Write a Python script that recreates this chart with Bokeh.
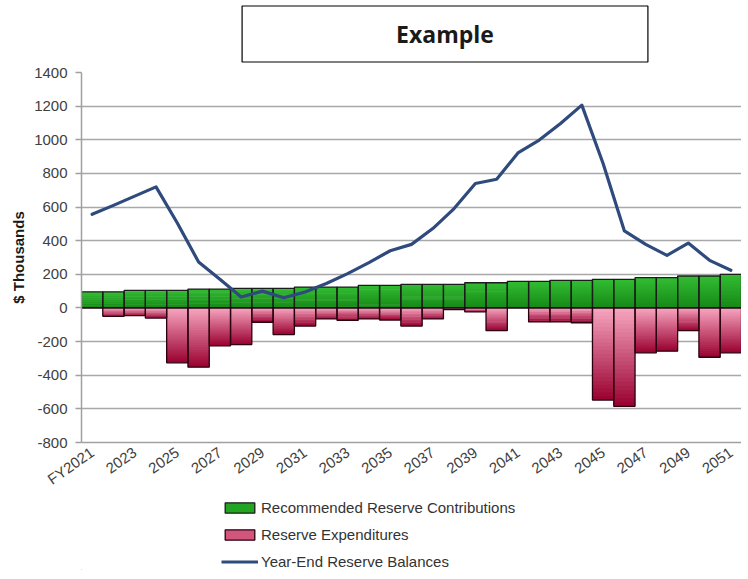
import math
from bokeh.plotting import figure
from bokeh.layouts import column
from bokeh.models import (ColumnDataSource, Range1d, FixedTicker, Legend,
                          LegendItem, Label)
from bokeh.embed import file_html
from bokeh.resources import INLINE

# ---------------- data ----------------
years = ["FY2021"] + [str(y) for y in range(2022, 2052)]
contributions = [96, 96, 104, 104, 104, 112, 112, 116, 116, 116,
                 124, 124, 124, 134, 134, 140, 140, 140, 150, 150,
                 158, 158, 164, 164, 170, 170, 180, 180, 190, 190, 200]
expenditures = [0, -50, -46, -60, -326, -352, -225, -218, -85, -158,
                -108, -65, -73, -65, -72, -108, -65, -10, -23, -135,
                0, -83, -83, -88, -548, -585, -267, -257, -135, -293, -267]
balances = [557, 610, 665, 720, 505, 273, 170, 65, 100, 61,
            95, 145, 204, 270, 340, 378, 472, 591, 740, 765,
            922, 998, 1097, 1206, 859, 458, 378, 313, 386, 283, 224]
y_ticks = [-800, -600, -400, -200, 0, 200, 400, 600, 800, 1000, 1200, 1400]
series_names = ["Recommended Reserve Contributions", "Reserve Expenditures",
                "Year-End Reserve Balances"]
title_text = "Example"
y_title = "$ Thousands"

# ---------------- helpers ----------------
def hex2rgb(h):
    h = h.lstrip("#")
    return tuple(int(h[i:i + 2], 16) for i in (0, 2, 4))

def lerp(c1, c2, t):
    a, b = hex2rgb(c1), hex2rgb(c2)
    return "#%02x%02x%02x" % tuple(int(round(a[i] + (b[i] - a[i]) * t)) for i in range(3))

N_SEG = 24

def gradient_source(values, c_start, c_end):
    """Split every bar (0 -> value) into thin slices coloured along a gradient.
    Slice 0 is at the value end for positive bars (top), at zero for negative bars."""
    x, top, bottom, color = [], [], [], []
    for s in range(N_SEG):
        f0 = s / N_SEG
        f1 = min(1.0, (s + 1.7) / N_SEG)
        col = lerp(c_start, c_end, (s + 0.5) / N_SEG)
        for i, v in enumerate(values):
            if v >= 0:
                t, b = v * (1 - f0), v * (1 - f1)
            else:
                t, b = v * f0, v * f1
            x.append(i); top.append(t); bottom.append(b); color.append(col)
    return ColumnDataSource(dict(x=x, top=top, bottom=bottom, color=color))

W = 741          # figure width
FL = 81          # frame left (pixels from figure's left edge)

def bare_figure(h):
    # frames of column children are aligned with the chart's frame (FL .. W),
    # so the x range maps straight onto figure pixels
    f = figure(width=W, height=h, output_backend="svg", toolbar_location=None,
               x_axis_type=None, y_axis_type=None,
               x_range=Range1d(FL, W), y_range=Range1d(0, h),
               min_border=0, min_border_left=FL, min_border_right=0,
               min_border_top=0, min_border_bottom=0)
    f.outline_line_color = None
    f.grid.visible = False
    return f

GREEN_C = "#22a522"
RED_C = "#d2557c"
LINE_C = "#2f4a7c"

# ---------------- title figure ----------------
TH = 64
pt = bare_figure(TH)
pt.add_layout(Label(x=444.5, y=TH - 33.5, text=title_text, text_align="center",
                    text_baseline="middle", text_font="Open Sans",
                    text_font_style="bold", text_font_size="23px",
                    text_color="#1a1a1a", border_line_color="black",
                    border_line_width=1.2, background_fill_color="white",
                    padding=(154, 12)))

# ---------------- main chart ----------------
n = len(years)
xs = list(range(n))
MH = 435
p = figure(width=W, height=MH, output_backend="svg", toolbar_location=None,
           x_range=Range1d(-0.5, n - 0.5), y_range=Range1d(-800, 1400),
           min_border_left=FL, min_border_right=0, min_border_top=8,
           min_border_bottom=57)
p.outline_line_color = None

p.xgrid.grid_line_color = None
p.ygrid.grid_line_color = "#a8a8a8"
p.ygrid.grid_line_width = 1.6
p.ygrid.ticker = FixedTicker(ticks=y_ticks)

green_src = gradient_source(contributions, "#33bd33", "#168816")
red_src = gradient_source(expenditures, "#f7a6c0", "#990030")
p.vbar(x="x", top="top", bottom="bottom", width=1.0, source=green_src,
       fill_color="color", line_color=None)
p.vbar(x="x", top="top", bottom="bottom", width=1.0, source=red_src,
       fill_color="color", line_color=None)

bar_src = ColumnDataSource(dict(x=xs, contrib=contributions, expend=expenditures))
p.vbar(x="x", top="contrib", bottom=0, width=1.0, source=bar_src,
       fill_color=None, line_color="#1c1c1c", line_width=1.3)
p.vbar(x="x", top="expend", bottom=0, width=1.0, source=bar_src,
       fill_color=None, line_color="#2a0010", line_width=1.3)

p.line(xs, balances, line_color=LINE_C, line_width=3.2,
       line_join="round", line_cap="round")

yax = p.yaxis[0]
yax.ticker = FixedTicker(ticks=y_ticks)
yax.major_label_overrides = {t: str(t) for t in y_ticks}
yax.axis_label = y_title
yax.axis_label_text_font = "Liberation Sans"
yax.axis_label_text_font_style = "bold"
yax.axis_label_text_font_size = "15px"
yax.axis_label_text_color = "#1a1a1a"
yax.axis_label_standoff = 4
yax.major_label_text_font = "Liberation Sans"
yax.major_label_text_font_size = "15px"
yax.major_label_text_color = "#404040"
yax.major_label_standoff = 8
yax.axis_line_color = "#a0a0a0"
yax.axis_line_width = 1.5
yax.major_tick_line_color = "#a0a0a0"
yax.major_tick_line_width = 1.5
yax.major_tick_out = 6
yax.major_tick_in = 0
yax.minor_tick_line_color = None

xax = p.xaxis[0]
xax.ticker = FixedTicker(ticks=xs[::2])
xax.major_label_overrides = {i: years[i] for i in xs[::2]}
xax.major_label_orientation = math.radians(35)
xax.major_label_text_font = "Liberation Sans"
xax.major_label_text_font_size = "15px"
xax.major_label_text_color = "#404040"
xax.major_label_standoff = 8
xax.major_tick_out = 0
xax.major_tick_in = 0
xax.axis_line_color = "#a0a0a0"
xax.axis_line_width = 1.5
xax.major_tick_line_color = None
xax.minor_tick_line_color = None

# ---------------- legend figure ----------------
LH = 71
pl = bare_figure(LH)
# swatch carriers placed outside the visible range (only their legend glyphs show)
g_leg = pl.vbar(x=[-50], top=[-40], bottom=[-45], width=1.0, fill_color=GREEN_C,
                line_color="#1c1c1c", line_width=1.3)
r_leg = pl.vbar(x=[-50], top=[-40], bottom=[-45], width=1.0, fill_color=RED_C,
                line_color="#2a0010", line_width=1.3)
l_leg = pl.line(x=[-50, -45], y=[-40, -40], line_color=LINE_C, line_width=3.2)
legend = Legend(items=[LegendItem(label=series_names[0], renderers=[g_leg]),
                       LegendItem(label=series_names[1], renderers=[r_leg]),
                       LegendItem(label=series_names[2], renderers=[l_leg])],
                location=(221 - FL, 0), orientation="vertical",
                padding=0, margin=0, spacing=10,
                glyph_width=37, glyph_height=13, label_height=17,
                label_standoff=3,
                label_text_font="Liberation Sans", label_text_font_size="15px",
                label_text_color="#333333",
                border_line_color=None, background_fill_alpha=0)
pl.add_layout(legend, "center")

layout = column(pt, p, pl, spacing=0)
open("out.html", "w").write(file_html(layout, INLINE))
